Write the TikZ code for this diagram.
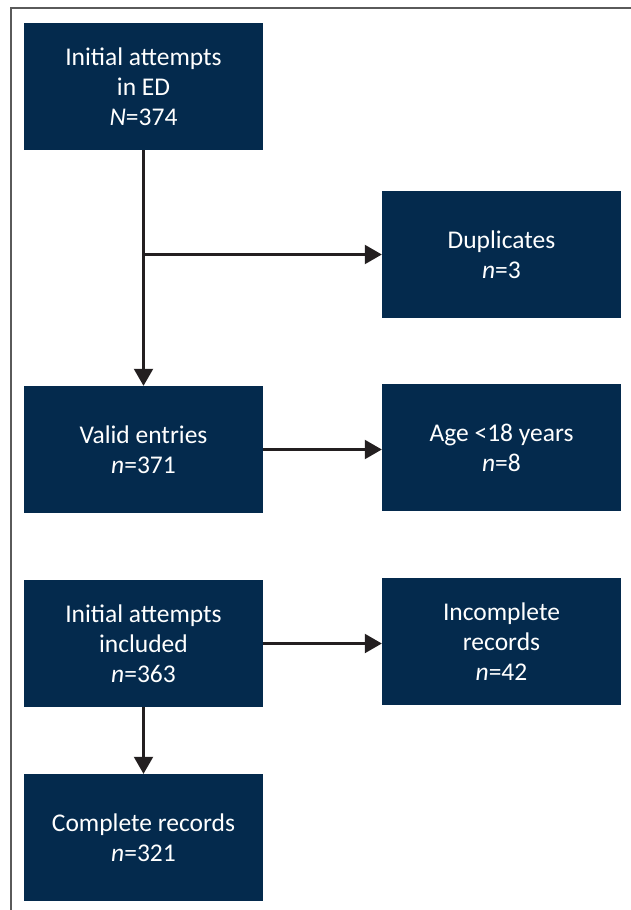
\documentclass[tikz,border=0pt]{standalone}
\usepackage{fontspec}
\setmainfont{Carlito}
\usetikzlibrary{arrows.meta}
\definecolor{navy}{RGB}{4,42,77}
\definecolor{ink}{RGB}{35,31,32}
\definecolor{framegray}{RGB}{90,90,90}
\begin{document}
\begin{tikzpicture}[x=1pt,y=-1pt,
  box/.style={fill=navy, text=white, minimum width=239pt, minimum height=127pt, inner sep=0pt, align=center, font=\fontsize{25.5}{30}\selectfont},
  conn/.style={draw=ink, line width=2.2pt, -{Triangle[length=17pt,width=19pt]}}]
\useasboundingbox (0,0) rectangle (631,910);
\draw[framegray, line width=1.2pt] (11,910) -- (11,8) -- (631,8);
\node[box] (b1) at (143.5,86.5) {Initial attempts\\in ED\\\textit{N}=374};
\node[box] (dup) at (501.5,254.5) {Duplicates\\\textit{n}=3};
\node[box] (valid) at (143.5,449.5) {Valid entries\\\textit{n}=371};
\node[box] (age) at (501.5,447.5) {Age <18 years\\\textit{n}=8};
\node[box] (incl) at (143.5,643.5) {Initial attempts\\included\\\textit{n}=363};
\node[box] (inc) at (501.5,641.5) {Incomplete\\records\\\textit{n}=42};
\node[box] (comp) at (143.5,837.5) {Complete records\\\textit{n}=321};
\coordinate (split) at (b1.south |- dup.west);
\draw[conn] (b1.south) -- (valid.north);
\draw[conn] (split) -- (dup.west);
\draw[conn] (valid.east) -- (valid.east -| age.west);
\draw[conn] (incl.east) -- (incl.east -| inc.west);
\draw[conn] (incl.south) -- (comp.north);
\end{tikzpicture}
\end{document}
